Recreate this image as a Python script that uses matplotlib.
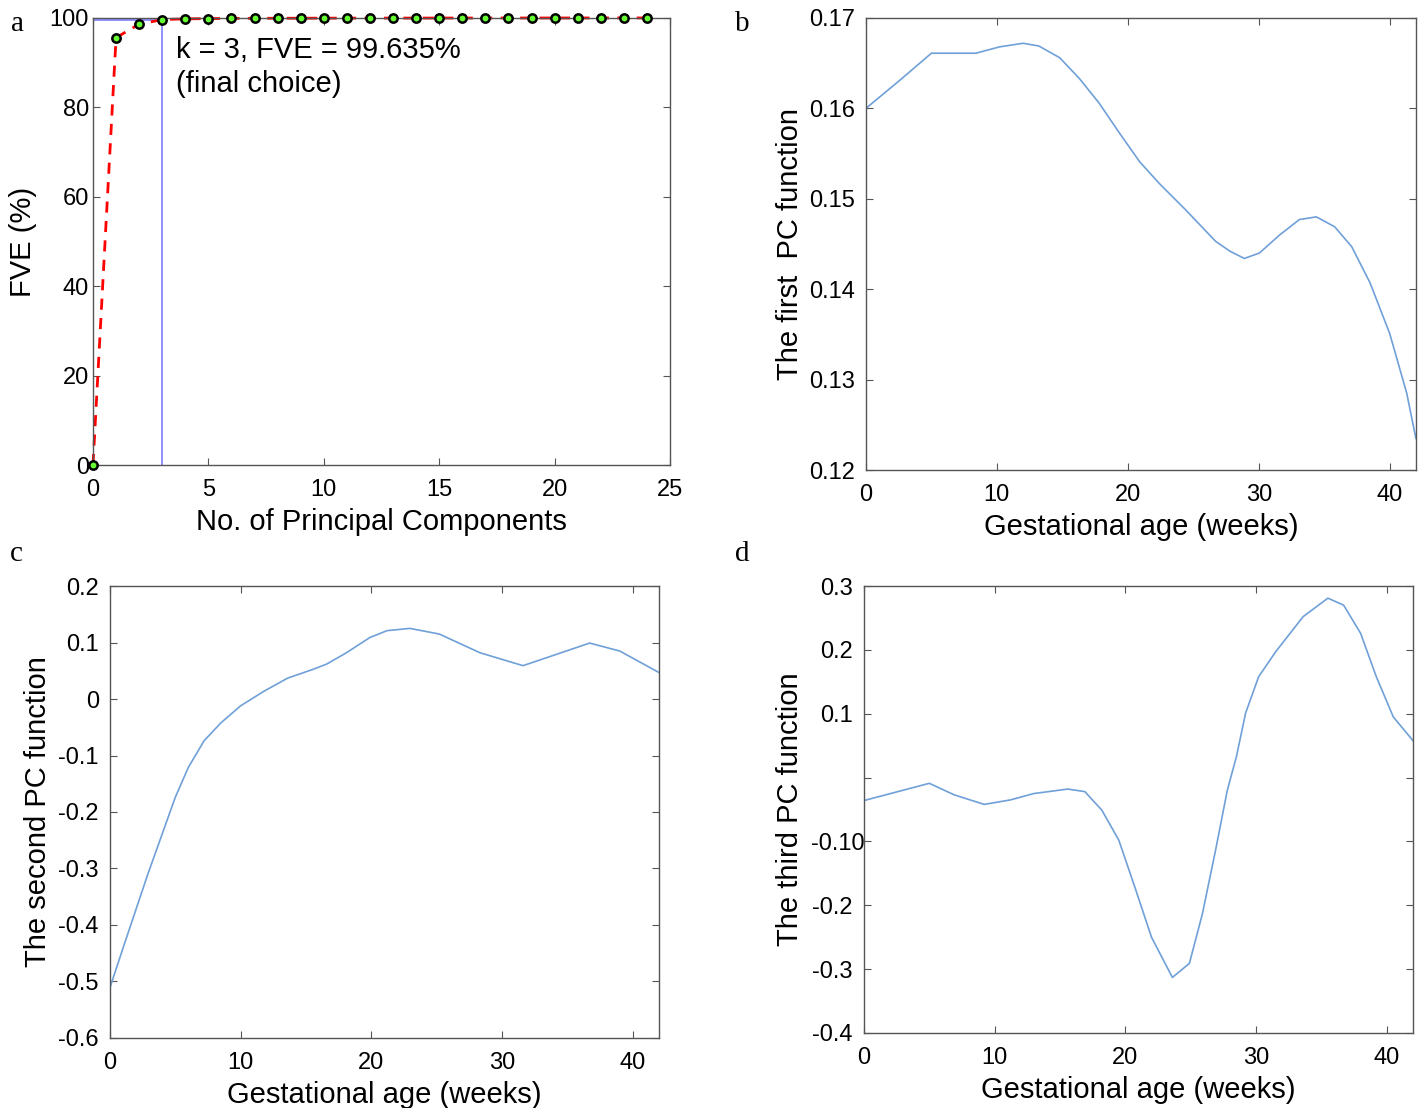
import matplotlib
matplotlib.use("Agg")
import matplotlib.pyplot as plt
from matplotlib import transforms

plt.rcParams["font.family"] = ["Liberation Sans", "DejaVu Sans"]

# panel a: fraction of variance explained
n_pc = list(range(25))
fve = [0, 95.6, 98.6, 99.635, 99.8, 99.85, 99.9, 99.92, 99.93, 99.94, 99.95, 99.96,
       99.96, 99.97, 99.97, 99.98, 99.98, 99.98, 99.99, 99.99, 99.99, 99.99, 100, 100, 100]
k_choice = 3
fve_choice = 99.635

# panels b-d: PC functions over gestational age
weeks_b = [0, 2.5, 5.0, 6.6, 8.4, 10.2, 12.0, 13.2, 14.8, 16.3, 17.8, 19.3, 20.9,
           22.4, 24.4, 26.7, 27.8, 28.9, 30.05, 31.6, 33.1, 34.4, 35.8, 37.1, 38.5,
           40.0, 41.3, 42.0]
pc1 = [0.1600, 0.1630, 0.1661, 0.1661, 0.1661, 0.1668, 0.1672, 0.1669, 0.1656, 0.1633,
       0.1606, 0.1574, 0.1541, 0.1517, 0.1488, 0.1453, 0.1442, 0.1434, 0.1440, 0.1460,
       0.1477, 0.1480, 0.1469, 0.1447, 0.1407, 0.1351, 0.1285, 0.1235]

weeks_c = [0, 1.1, 2.9, 5.0, 6.0, 7.2, 8.5, 10.0, 11.8, 13.6, 15.6, 16.6, 18.1, 19.9,
           21.2, 22.95, 25.2, 28.3, 31.6, 33.9, 36.7, 39.0, 42.0]
pc2 = [-0.511, -0.434, -0.310, -0.174, -0.121, -0.074, -0.042, -0.012, 0.014, 0.037,
       0.053, 0.062, 0.082, 0.109, 0.121, 0.125, 0.115, 0.082, 0.059, 0.077, 0.099,
       0.085, 0.047]

weeks_d = [0, 5.0, 6.9, 9.2, 11.2, 13.0, 15.6, 16.9, 18.2, 19.5, 20.8, 22.0, 23.6,
           24.9, 25.9, 26.9, 27.8, 28.5, 29.2, 30.2, 31.5, 33.6, 35.5, 36.7, 38.0,
           39.2, 40.5, 42.0]
pc3 = [-0.036, -0.009, -0.027, -0.042, -0.035, -0.025, -0.018, -0.022, -0.051, -0.098,
       -0.176, -0.250, -0.313, -0.291, -0.213, -0.114, -0.020, 0.033, 0.101, 0.158,
       0.197, 0.252, 0.281, 0.270, 0.226, 0.158, 0.095, 0.058]

curve_color = "#6fa0d8"
tick_size = 17
label_size = 21


def style_axes(ax, ypad=8):
    ax.tick_params(direction="in", top=True, right=True, labelsize=tick_size,
                   length=5, color="#555555")
    ax.tick_params(axis="x", pad=10)
    ax.tick_params(axis="y", pad=ypad)
    for s in ax.spines.values():
        s.set_color("#555555")
        s.set_linewidth(1.0)


fig = plt.figure(figsize=(14.24, 11.08), dpi=100)

# a
ax = fig.add_axes([0.0653, 0.5803, 0.4052, 0.4035])
ax.plot([0, k_choice], [fve_choice, fve_choice], color="#7b7bff", lw=1.2)
ax.plot([k_choice, k_choice], [0, fve_choice], color="#7b7bff", lw=1.2)
ax.plot(n_pc, fve, "--", color="red", lw=2, dashes=(4, 3), clip_on=False)
ax.plot(n_pc, fve, "o", ms=6, mfc="#66ff33", mec="black", mew=1.8, clip_on=False, zorder=5)
ax.text(3.6, 96.0, "k = 3, FVE = 99.635%\n(final choice)", fontsize=label_size,
        va="top", ha="left", linespacing=1.3)
ax.set_xlim(0, 25)
ax.set_ylim(0, 100)
ax.set_xticks(range(0, 26, 5))
ax.set_yticks(range(0, 101, 20))
ax.set_xlabel("No. of Principal Components", fontsize=label_size, labelpad=5)
ax.set_ylabel("FVE (%)", fontsize=label_size)
style_axes(ax, ypad=3)
ax.yaxis.set_label_coords(-0.097, 0.5)

# b
ax = fig.add_axes([0.6081, 0.5758, 0.3862, 0.408])
ax.plot(weeks_b, pc1, color=curve_color, lw=1.2)
ax.set_xlim(0, 42)
ax.set_ylim(0.12, 0.17)
ax.set_xticks(range(0, 41, 10))
ax.set_yticks([0.12, 0.13, 0.14, 0.15, 0.16, 0.17])
ax.set_yticklabels(["0.12", "0.13", "0.14", "0.15", "0.16", "0.17"])
ax.set_xlabel("Gestational age (weeks)", fontsize=label_size, labelpad=5)
ax.set_ylabel("The first  PC function", fontsize=label_size)
style_axes(ax)
ax.yaxis.set_label_coords(-0.113, 0.5)

# c
ax = fig.add_axes([0.0772, 0.0632, 0.3855, 0.4079])
ax.plot(weeks_c, pc2, color=curve_color, lw=1.2)
ax.set_xlim(0, 42)
ax.set_ylim(-0.6, 0.2)
ax.set_xticks(range(0, 41, 10))
ax.set_yticks([-0.6, -0.5, -0.4, -0.3, -0.2, -0.1, 0, 0.1, 0.2])
ax.set_yticklabels(["-0.6", "-0.5", "-0.4", "-0.3", "-0.2", "-0.1", "0", "0.1", "0.2"])
ax.set_xlabel("Gestational age (weeks)", fontsize=label_size, labelpad=5)
ax.set_ylabel("The second PC function", fontsize=label_size)
style_axes(ax)
ax.yaxis.set_label_coords(-0.106, 0.5)

# d
ax = fig.add_axes([0.6067, 0.0677, 0.3855, 0.4034])
ax.plot(weeks_d, pc3, color=curve_color, lw=1.2)
ax.set_xlim(0, 42)
ax.set_ylim(-0.4, 0.3)
ax.set_xticks(range(0, 41, 10))
ax.set_yticks([-0.4, -0.3, -0.2, -0.1, 0, 0.1, 0.2, 0.3])
ax.set_yticklabels(["-0.4", "-0.3", "-0.2", "-0.10", "", "0.1", "0.2", "0.3"])
ax.set_xlabel("Gestational age (weeks)", fontsize=label_size, labelpad=5)
ax.set_ylabel("The third PC function", fontsize=label_size)
style_axes(ax)
ax.yaxis.set_label_coords(-0.109, 0.5)
# the "-0.10" label sits over the axis line in the original
lbl = ax.get_yticklabels()[3]
lbl.set_transform(lbl.get_transform() + transforms.ScaledTranslation(0.12, 0, fig.dpi_scale_trans))

# panel letters
for x, y, s in [(0.008, 0.978, "a"), (0.516, 0.978, "b"), (0.007, 0.5, "c"), (0.516, 0.5, "d")]:
    fig.text(x, y, s, fontsize=21, family=["Liberation Serif", "DejaVu Serif"], va="center")

fig.savefig("out.png", dpi=100)
